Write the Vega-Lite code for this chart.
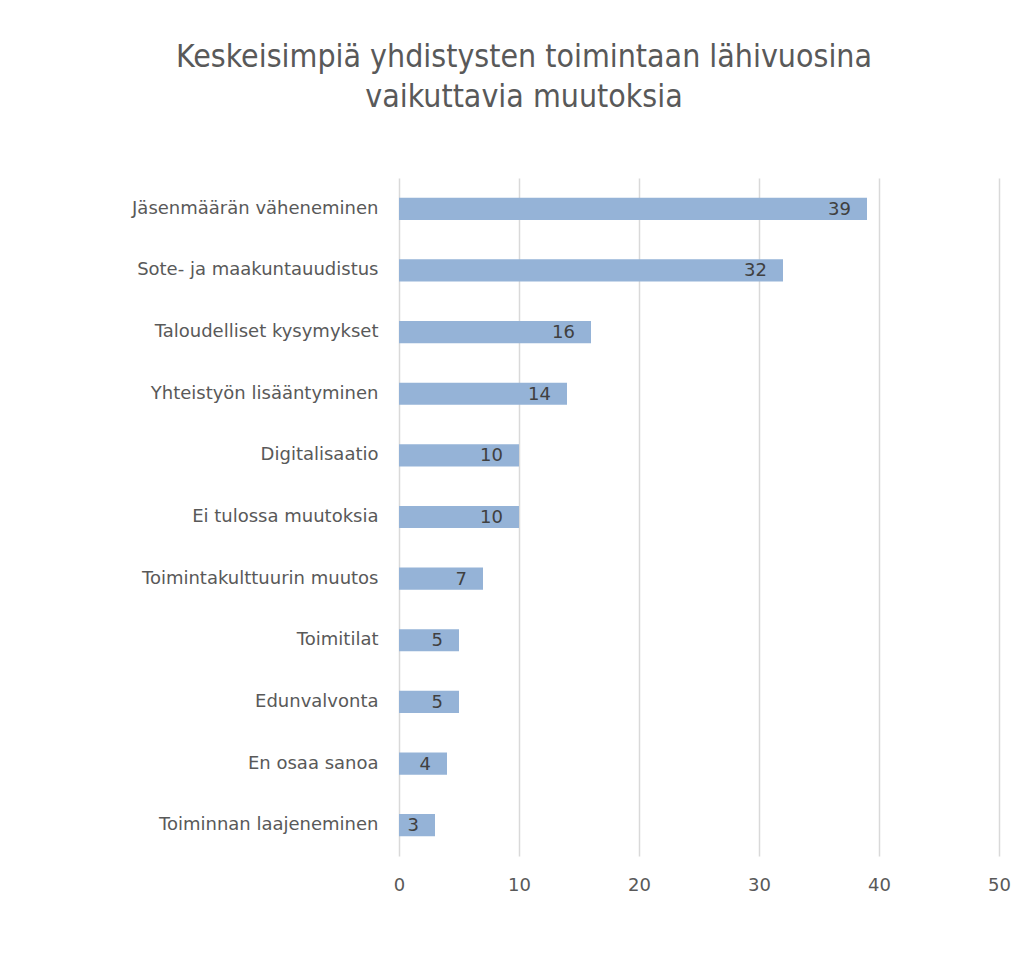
{
  "$schema": "https://vega.github.io/schema/vega-lite/v6.json",
  "autosize": {"type": "none"},
  "padding": {"left": 399, "top": 178, "right": 31, "bottom": 120},
  "width": 600,
  "height": 678,
  "background": "white",
  "title": {
    "text": ["Keskeisimpiä yhdistysten toimintaan lähivuosina", "vaikuttavia muutoksia"],
    "anchor": "middle",
    "dx": -175,
    "offset": 64,
    "font": "Liberation Sans Narrow, DejaVu Sans Condensed, sans-serif",
    "fontSize": 31.8,
    "fontWeight": "normal",
    "color": "#595959",
    "lineHeight": 40
  },
  "config": {
    "view": {"stroke": null},
    "axis": {"labelFont": "DejaVu Sans", "labelColor": "#595959"}
  },
  "data": {
    "values": [
      {"muutos": "Jäsenmäärän väheneminen", "n": 39},
      {"muutos": "Sote- ja maakuntauudistus", "n": 32},
      {"muutos": "Taloudelliset kysymykset", "n": 16},
      {"muutos": "Yhteistyön lisääntyminen", "n": 14},
      {"muutos": "Digitalisaatio", "n": 10},
      {"muutos": "Ei tulossa muutoksia", "n": 10},
      {"muutos": "Toimintakulttuurin muutos", "n": 7},
      {"muutos": "Toimitilat", "n": 5},
      {"muutos": "Edunvalvonta", "n": 5},
      {"muutos": "En osaa sanoa", "n": 4},
      {"muutos": "Toiminnan laajeneminen", "n": 3}
    ]
  },
  "encoding": {
    "y": {
      "field": "muutos",
      "type": "nominal",
      "sort": null,
      "scale": {"paddingInner": 0.64, "paddingOuter": 0.32},
      "axis": {
        "title": null,
        "domain": false,
        "ticks": false,
        "grid": false,
        "labelFontSize": 18,
        "labelPadding": 21,
        "labelLimit": 400
      }
    },
    "x": {
      "field": "n",
      "type": "quantitative",
      "scale": {"domain": [0, 50], "nice": false},
      "axis": {
        "title": null,
        "values": [0, 10, 20, 30, 40, 50],
        "domain": false,
        "ticks": false,
        "grid": true,
        "gridColor": "#d9d9d9",
        "gridWidth": 1.5,
        "labelFontSize": 18,
        "labelPadding": 20,
        "labelFlush": false
      }
    }
  },
  "layer": [
    {"mark": {"type": "bar", "color": "#95b3d7"}},
    {
      "mark": {"type": "text", "align": "right", "baseline": "middle", "dx": -16, "dy": 1, "font": "DejaVu Sans", "fontSize": 18, "color": "#404040"},
      "encoding": {"text": {"field": "n", "type": "quantitative"}}
    }
  ]
}
